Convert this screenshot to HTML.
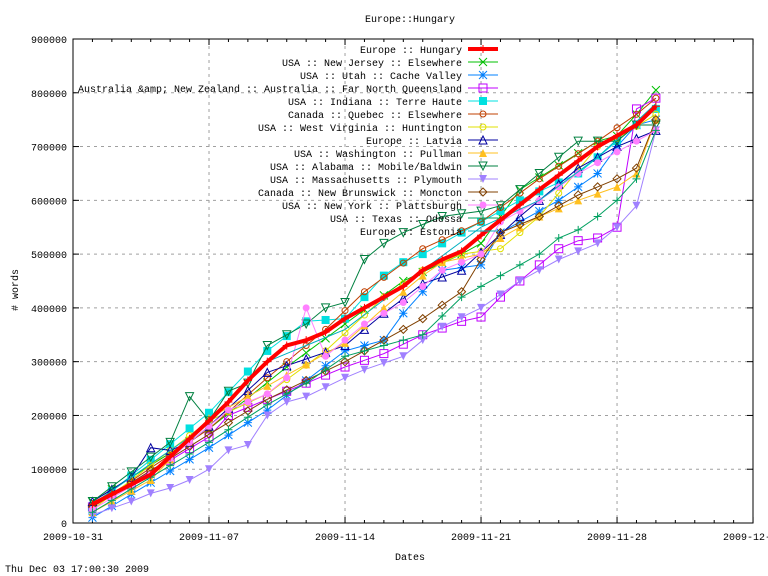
<!DOCTYPE html>
<html><head><meta charset="utf-8"><style>
html,body{margin:0;padding:0;background:#fff;}
svg{display:block;font-family:"Liberation Mono",monospace;font-size:10px;}
</style></head><body>
<svg id="s" width="768" height="576" viewBox="0 0 768 576" xmlns="http://www.w3.org/2000/svg">
<rect width="768" height="576" fill="#fff"/>
<text x="410" y="22" text-anchor="middle">Europe::Hungary</text>
<g id="grid" stroke="#a0a0a0" stroke-dasharray="3,4" stroke-width="1"></g>
<g id="axes"></g>
<g id="data"></g>
<g id="legend"></g>
<text x="410" y="560" text-anchor="middle">Dates</text>
<text transform="translate(18,290) rotate(-90)" text-anchor="middle"># words</text>
<text x="5" y="572">Thu Dec 03 17:00:30 2009</text>
</svg>
<script>
var NS="http://www.w3.org/2000/svg";
function el(p,t,a,txt){var e=document.createElementNS(NS,t);for(var k in a)e.setAttribute(k,a[k]);if(txt!==undefined)e.textContent=txt;p.appendChild(e);return e;}
var L=73,R=753,T=39,B=523;
function X(d){return L+d*19.43;}
function Y(v){return B-v*484/900;}
var grid=document.getElementById('grid'),axes=document.getElementById('axes');
for(var i=1;i<=8;i++){el(grid,'line',{x1:L,x2:R,y1:Y(i*100),y2:Y(i*100)});}
[7,14,21,28].forEach(function(d){el(grid,'line',{x1:X(d),x2:X(d),y1:T,y2:B});});
el(axes,'rect',{x:L,y:T,width:R-L,height:B-T,fill:'none',stroke:'#000','stroke-width':1});
for(var i=0;i<=9;i++){var y=Y(i*100);
 el(axes,'line',{x1:L,x2:L+6,y1:y,y2:y,stroke:'#000'});
 el(axes,'line',{x1:R-6,x2:R,y1:y,y2:y,stroke:'#000'});
 el(axes,'text',{x:67,y:y+4,'text-anchor':'end'},String(i*100000));}
for(var d=0;d<=35;d++){var x=X(d),len=(d%7==0)?6:3;
 el(axes,'line',{x1:x,x2:x,y1:B,y2:B-len,stroke:'#000'});
 el(axes,'line',{x1:x,x2:x,y1:T,y2:T+len,stroke:'#000'});}
var labs=['2009-10-31','2009-11-07','2009-11-14','2009-11-21','2009-11-28','2009-12-05'];
labs.forEach(function(l,i){el(axes,'text',{x:X(i*7),y:540,'text-anchor':'middle'},l);});
var S=[
["Europe :: Hungary","#ff0000","plus",[[1,35],[4,90],[7,190],[8,225],[9,265],[10,300],[11,330],[12,340],[13,355],[14,380],[15,400],[16,420],[17,440],[18,470],[19,490],[20,505],[21,535],[24,620],[27,700],[29,740],[30,775]],4],
["USA :: New Jersey :: Elsewhere","#00c000","x",[[1,40],[7,175],[11,290],[14,370],[17,450],[20,500],[21,520],[23,620],[27,710],[28,720],[29,760],[30,805]],1],
["USA :: Utah :: Cache Valley","#0080ff","star",[[1,10],[4,75],[7,140],[10,210],[14,320],[16,340],[17,390],[19,470],[21,480],[22,540],[25,600],[27,650],[28,700],[29,740],[30,750]],1],
["Australia &amp; New Zealand :: Australia :: Far North Queensland","#c000ff","sq",[[1,30],[7,160],[8,200],[10,230],[14,290],[16,315],[18,350],[20,375],[21,383],[22,420],[24,480],[25,510],[26,525],[27,530],[28,550],[29,770],[30,790]],1],
["USA :: Indiana :: Terre Haute","#00e0e0","fsq",[[1,30],[7,205],[10,320],[12,375],[14,380],[16,460],[17,485],[18,500],[21,560],[23,600],[26,650],[29,740],[30,770]],1],
["Canada :: Quebec :: Elsewhere","#c04000","circ",[[1,30],[7,175],[10,270],[13,360],[15,430],[18,510],[21,560],[24,640],[27,710],[29,760],[30,790]],1],
["USA :: West Virginia :: Huntington","#e0e000","circ",[[1,25],[7,190],[10,240],[13,320],[16,420],[18,470],[20,500],[22,510],[24,570],[27,700],[28,715],[30,760]],1],
["Europe :: Latvia","#0000a0","tri",[[1,40],[3,85],[4,140],[5,135],[6,150],[7,180],[10,280],[14,330],[16,390],[18,445],[20,470],[23,570],[26,660],[28,700],[30,730]],1],
["USA :: Washington :: Pullman","#ffc020","ftri",[[1,20],[4,80],[7,195],[11,275],[14,335],[16,400],[18,460],[19,485],[21,500],[22,530],[24,570],[26,600],[28,625],[29,650],[30,750]],1],
["USA :: Alabama :: Mobile/Baldwin","#008040","dtri",[[1,40],[5,150],[6,235],[7,190],[8,245],[9,260],[10,330],[11,350],[12,370],[13,400],[14,410],[15,490],[16,520],[17,540],[19,570],[21,580],[22,590],[24,650],[26,710],[28,710],[29,740],[30,740]],1],
["USA :: Massachusetts :: Plymouth","#a080ff","fdtri",[[1,15],[3,40],[4,55],[5,65],[6,80],[7,100],[8,135],[9,145],[10,200],[11,225],[12,235],[14,270],[15,285],[17,310],[18,340],[19,365],[21,400],[23,450],[24,470],[25,490],[27,520],[28,550],[29,590],[30,730]],1],
["Canada :: New Brunswick :: Moncton","#804000","dia",[[1,30],[7,165],[10,230],[14,300],[16,340],[18,380],[20,430],[21,490],[22,540],[24,570],[26,610],[28,640],[29,660],[30,750]],1],
["USA :: New York :: Plattsburgh","#ff80ff","fcirc",[[1,25],[4,90],[6,150],[8,210],[10,240],[11,270],[12,400],[13,310],[15,370],[17,410],[19,470],[21,500],[22,560],[24,600],[26,650],[28,690],[29,710],[30,730]],1],
["USA :: Texas :: Odessa","#00a060","plus",[[1,20],[4,85],[7,150],[10,220],[12,260],[14,310],[16,330],[18,350],[20,420],[21,440],[24,500],[25,530],[26,545],[27,570],[28,600],[29,640],[30,730]],1],
["Europe :: Estonia","#00b0c0","none",[[1,35],[7,185],[10,300],[14,360],[18,470],[21,550],[24,600],[27,680],[30,780]],1]
];
function interp(a,d){for(var i=0;i<a.length-1;i++){if(d>=a[i][0]&&d<=a[i+1][0]){var t=(d-a[i][0])/(a[i+1][0]-a[i][0]);return a[i][1]+t*(a[i+1][1]-a[i][1]);}}return a[a.length-1][1];}
function mark(g,type,x,y,c){var s=4;
 switch(type){
 case 'plus':el(g,'path',{d:'M'+(x-s)+' '+y+'h'+2*s+'M'+x+' '+(y-s)+'v'+2*s,stroke:c,fill:'none'});break;
 case 'x':el(g,'path',{d:'M'+(x-s)+' '+(y-s)+'l'+2*s+' '+2*s+'M'+(x-s)+' '+(y+s)+'l'+2*s+' '+(-2*s),stroke:c,fill:'none'});break;
 case 'star':el(g,'path',{d:'M'+(x-s)+' '+y+'h'+2*s+'M'+x+' '+(y-s)+'v'+2*s+'M'+(x-s)+' '+(y-s)+'l'+2*s+' '+2*s+'M'+(x-s)+' '+(y+s)+'l'+2*s+' '+(-2*s),stroke:c,fill:'none'});break;
 case 'sq':el(g,'rect',{x:x-s,y:y-s,width:2*s,height:2*s,stroke:c,fill:'none'});break;
 case 'fsq':el(g,'rect',{x:x-s,y:y-s,width:2*s,height:2*s,fill:c});break;
 case 'circ':el(g,'circle',{cx:x,cy:y,r:3,stroke:c,fill:'none'});break;
 case 'fcirc':el(g,'circle',{cx:x,cy:y,r:3.5,fill:c});break;
 case 'tri':el(g,'path',{d:'M'+x+' '+(y-s)+'L'+(x+s)+' '+(y+s)+'L'+(x-s)+' '+(y+s)+'Z',stroke:c,fill:'none'});break;
 case 'ftri':el(g,'path',{d:'M'+x+' '+(y-s)+'L'+(x+s)+' '+(y+s)+'L'+(x-s)+' '+(y+s)+'Z',fill:c});break;
 case 'dtri':el(g,'path',{d:'M'+x+' '+(y+s)+'L'+(x+s)+' '+(y-s)+'L'+(x-s)+' '+(y-s)+'Z',stroke:c,fill:'none'});break;
 case 'fdtri':el(g,'path',{d:'M'+x+' '+(y+s)+'L'+(x+s)+' '+(y-s)+'L'+(x-s)+' '+(y-s)+'Z',fill:c});break;
 case 'dia':el(g,'path',{d:'M'+x+' '+(y-s)+'L'+(x+s)+' '+y+'L'+x+' '+(y+s)+'L'+(x-s)+' '+y+'Z',stroke:c,fill:'none'});break;
 }}
var data=document.getElementById('data'),leg=document.getElementById('legend');
var order=S.slice(1).concat([S[0]]);
order.forEach(function(s){var g=el(data,'g',{});var pts=[];
 for(var d=1;d<=30;d++){pts.push([X(d),Y(interp(s[3],d))]);}
 el(g,'polyline',{points:pts.map(function(p){return p[0].toFixed(1)+','+p[1].toFixed(1);}).join(' '),fill:'none',stroke:s[1],'stroke-width':s[4]});
 pts.forEach(function(p){mark(g,s[2],p[0],p[1],s[1]);});});
S.forEach(function(s,i){var y=49+i*13;
 var t=el(leg,'text',{x:462,y:y+4,'text-anchor':'end'});t.textContent=s[0];
 el(leg,'line',{x1:468,x2:498,y1:y,y2:y,stroke:s[1],'stroke-width':s[4]});
 mark(leg,s[2],483,y,s[1]);});
</script>
</body></html>
